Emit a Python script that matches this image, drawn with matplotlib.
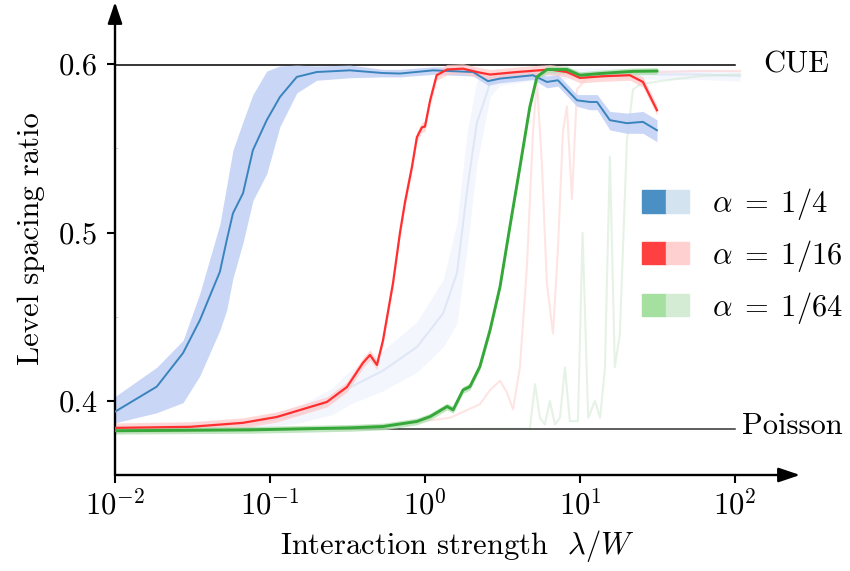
import matplotlib

matplotlib.use("Agg")
import matplotlib.pyplot as plt  # noqa: E402
from matplotlib.legend_handler import HandlerTuple  # noqa: E402
from matplotlib.patches import Patch  # noqa: E402

plt.rcParams["font.family"] = ["cmr10", "DejaVu Serif"]
plt.rcParams["mathtext.fontset"] = "cm"
plt.rcParams["axes.formatter.use_mathtext"] = True

# reference levels
CUE = 0.5996
POISSON = 0.3835

# alpha = 1/4, main data
blue_x = [0.0100, 0.0186, 0.0275, 0.0353, 0.0475, 0.0526, 0.0577, 0.0670, 0.0776, 0.0953,
          0.116, 0.149, 0.200, 0.328, 0.536, 0.690, 1.13, 2.04, 2.55, 3.05,
          4.98, 6.12, 7.21, 9.57, 11.6, 12.9, 15.6, 20.1, 25.5, 31.4]
blue_y = [0.3936, 0.4085, 0.4285, 0.448, 0.4767, 0.4955, 0.5115, 0.5234, 0.549, 0.5668,
          0.5806, 0.5925, 0.5954, 0.5964, 0.5948, 0.5945, 0.5964, 0.5954, 0.590, 0.5915,
          0.5935, 0.5895, 0.5905, 0.5786, 0.5776, 0.5776, 0.5668, 0.565, 0.5658, 0.5608]
blue_lo = [0.387, 0.393, 0.399, 0.415, 0.442, 0.454, 0.473, 0.494, 0.519, 0.535,
           0.563, 0.583, 0.5905, 0.592, 0.5925, 0.5925, 0.594, 0.593, 0.5875, 0.589,
           0.591, 0.586, 0.587, 0.575, 0.573, 0.573, 0.561, 0.559, 0.559, 0.554]
blue_hi = [0.4026, 0.420, 0.436, 0.464, 0.505, 0.528, 0.549, 0.566, 0.582, 0.596,
           0.599, 0.5995, 0.599, 0.5995, 0.597, 0.597, 0.5985, 0.598, 0.5925, 0.594,
           0.596, 0.593, 0.594, 0.582, 0.582, 0.582, 0.572, 0.571, 0.572, 0.567]

# alpha = 1/16, main data
red_x = [0.0100, 0.0305, 0.0670, 0.111, 0.233, 0.314, 0.398, 0.442, 0.490, 0.536,
         0.622, 0.690, 0.743, 0.824, 0.887, 0.957, 1.00, 1.08, 1.19, 1.39,
         1.76, 2.16, 2.63, 3.92, 6.40, 8.24, 10.0, 14.1, 21.0, 25.5, 31.4]
red_y = [0.384, 0.3846, 0.387, 0.3905, 0.3994, 0.4083, 0.4226, 0.4273, 0.4214, 0.436,
         0.470, 0.500, 0.518, 0.539, 0.5567, 0.5626, 0.563, 0.5786, 0.5935, 0.5969,
         0.5974, 0.5954, 0.5939, 0.5954, 0.5969, 0.5954, 0.5919, 0.5929, 0.5935, 0.5895, 0.5727]
red_err = 0.003

# alpha = 1/64, main data
green_x = [0.0100, 0.0743, 0.328, 0.536, 0.887, 1.08, 1.39, 1.52, 1.76, 1.95,
           2.26, 2.63, 3.05, 3.53, 4.10, 4.75, 5.28, 6.12, 8.24, 10.0,
           13.5, 22.0, 31.4]
green_y = [0.3823, 0.3828, 0.3840, 0.3848, 0.3878, 0.3907, 0.3967, 0.3947, 0.4065, 0.4085,
           0.4204, 0.4421, 0.4678, 0.5034, 0.539, 0.5747, 0.5925, 0.5969, 0.5969, 0.5935,
           0.5945, 0.5958, 0.5960]
green_err = 0.002

# faint companion curves
lblue_x = [0.0100, 0.0743, 0.156, 0.255, 0.328, 0.536, 0.887, 1.31, 1.61, 1.87,
           2.16, 2.63, 3.05, 5.52, 13.5, 32.8, 59.4, 108]
lblue_y = [0.384, 0.386, 0.392, 0.400, 0.408, 0.418, 0.432, 0.452, 0.476, 0.525,
           0.565, 0.5887, 0.5915, 0.594, 0.595, 0.594, 0.594, 0.593]
lblue_err = [0.002, 0.003, 0.005, 0.008, 0.010, 0.012, 0.015, 0.020, 0.030, 0.035,
             0.025, 0.008, 0.004, 0.003, 0.003, 0.003, 0.003, 0.003]

lred_x = [0.0100, 0.283, 0.690, 1.45, 2.26, 2.63, 3.05, 3.38, 3.70, 4.10,
          4.55, 4.98, 5.28, 5.69, 6.12, 6.70, 7.21, 7.77, 8.24, 8.88,
          9.57, 11.6, 24.4, 59.4, 108]
lred_y = [0.3835, 0.384, 0.386, 0.390, 0.398, 0.4065, 0.412, 0.405, 0.395, 0.420,
          0.480, 0.560, 0.590, 0.540, 0.470, 0.440, 0.490, 0.560, 0.575, 0.520,
          0.585, 0.594, 0.595, 0.596, 0.596]

lgreen_x = [0.0100, 4.75, 5.13, 5.52, 5.94, 6.40, 6.90, 7.43, 8.00, 8.61,
            9.71, 10.4, 11.3, 12.5, 13.5, 14.5, 15.6, 16.8, 18.1, 20.1,
            22.0, 24.4, 32.8, 59.4, 108]
lgreen_y = [0.3830, 0.3835, 0.410, 0.390, 0.386, 0.400, 0.386, 0.390, 0.420, 0.388,
            0.388, 0.500, 0.390, 0.400, 0.390, 0.420, 0.545, 0.420, 0.440, 0.555,
            0.585, 0.588, 0.590, 0.593, 0.594]

x_ticks = [1e-2, 1e-1, 1e0, 1e1, 1e2]
x_tick_labels = [r"$10^{-2}$", r"$10^{-1}$", r"$10^{0}$", r"$10^{1}$", r"$10^{2}$"]
y_ticks = [0.4, 0.5, 0.6]
y_tick_labels = ["0.4", "0.5", "0.6"]
legend_labels = [r"$\alpha\;=\;1/4$", r"$\alpha\;=\;1/16$", r"$\alpha\;=\;1/64$"]

FS = 22

fig = plt.figure(figsize=(8.5, 5.71), dpi=100)
ax = fig.add_axes([115 / 850, 96 / 571, 685 / 850, 473 / 571])
ax.set_xscale("log")
ax.set_xlim(1e-2, 10 ** 2.42)
ax.set_ylim(0.356, 0.637)

# faint curves
ax.fill_between(lblue_x, [y - e for y, e in zip(lblue_y, lblue_err)],
                [y + e for y, e in zip(lblue_y, lblue_err)],
                color="#c9d6f5", alpha=0.2, lw=0, zorder=1)
ax.plot(lblue_x, lblue_y, color="#c6d6ee", lw=1.5, alpha=0.45, zorder=1)
ax.plot(lred_x, lred_y, color="#ffc4c4", lw=1.5, alpha=0.45, zorder=1)
ax.plot(lgreen_x, lgreen_y, color="#cde6cf", lw=1.5, alpha=0.5, zorder=1)

# reference lines
ax.plot([1e-2, 1e2], [CUE, CUE], color="black", lw=1.1, zorder=2)
ax.plot([1e-2, 1e2], [POISSON, POISSON], color="#333333", lw=1.1, zorder=2)
ax.text(10 ** 2.18, CUE, "CUE", fontsize=FS, va="center", ha="left")
ax.text(10 ** 2.045, POISSON + 0.0015, "Poisson", fontsize=FS, va="center", ha="left")

# main curves
ax.fill_between(blue_x, blue_lo, blue_hi, color="#c3d2f6", lw=0, alpha=0.9, zorder=3)
ax.plot(blue_x, blue_y, color="#3a84bd", lw=1.4, zorder=4)
ax.fill_between(red_x, [y - red_err for y in red_y], [y + red_err for y in red_y],
                color="#ffc8c8", lw=0, alpha=0.7, zorder=3)
ax.plot(red_x, red_y, color="#ff2f2f", lw=1.6, zorder=4)
ax.fill_between(green_x, [y - green_err for y in green_y], [y + green_err for y in green_y],
                color="#b3e0b3", lw=0, alpha=0.8, zorder=3)
ax.plot(green_x, green_y, color="#36a83a", lw=2.1, zorder=5)

# axes with arrows
for side in ("top", "right", "left", "bottom"):
    ax.spines[side].set_visible(False)
arrow = dict(arrowstyle="-|>,head_length=0.65,head_width=0.22", lw=1.7, color="black",
             mutation_scale=20, shrinkA=0, shrinkB=0)
ax.annotate("", xy=(1, 0), xytext=(0, 0), xycoords="axes fraction", arrowprops=arrow)
ax.annotate("", xy=(0, 1), xytext=(0, 0), xycoords="axes fraction", arrowprops=arrow)

ax.set_xticks(x_ticks, x_tick_labels)
ax.minorticks_off()
ax.set_yticks(y_ticks, y_tick_labels)
ax.set_yticks([0.45, 0.55], minor=True)
ax.tick_params(axis="both", which="major", labelsize=FS, length=6, width=1.5,
               direction="out")
ax.tick_params(axis="y", which="minor", length=2, width=0.6, direction="in",
               color="#cccccc")
ax.tick_params(axis="x", pad=4)
ax.tick_params(axis="y", pad=6)

ax.set_xlabel(r"Interaction strength  $\lambda/W$", fontsize=FS, labelpad=6)
ax.set_ylabel("Level spacing ratio", fontsize=FS, labelpad=10)

handles = [
    (Patch(color="#4a90c4"), Patch(color="#d3e4f0")),
    (Patch(color="#ff4040"), Patch(color="#ffd0d0")),
    (Patch(color="#a6e0a0"), Patch(color="#d4ecd4")),
]
ax.legend(handles, legend_labels, handler_map={tuple: HandlerTuple(ndivide=None, pad=0)},
          loc="upper left", bbox_to_anchor=(642 / 850, 1 - 186 / 571),
          bbox_transform=fig.transFigure, frameon=False, fontsize=FS,
          handlelength=1.55, handleheight=0.75, handletextpad=0.75,
          labelspacing=0.52, borderpad=0, borderaxespad=0)

fig.savefig("out.png", dpi=100)
